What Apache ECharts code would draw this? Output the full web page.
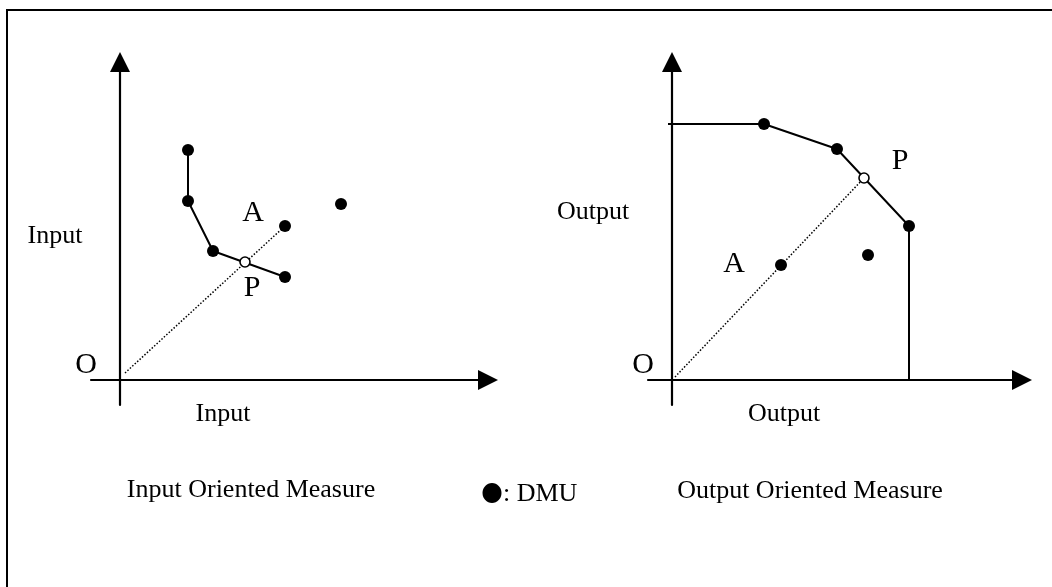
<!DOCTYPE html>
<html>
<head>
<meta charset="utf-8">
<script src="https://cdn.jsdelivr.net/npm/echarts@6/dist/echarts.min.js"></script>
<style>
  html, body { margin: 0; padding: 0; background: #fff; }
  #chart { width: 1052px; height: 587px; }
</style>
</head>
<body>
<div id="chart"></div>
<script>
  // input oriented (left panel), units = input quantities
  var inFrontier = [[6.8, 23.0], [6.8, 17.9], [9.3, 12.9], [16.5, 10.3]];
  var inOtherDmu = [[16.5, 15.4], [22.1, 17.6]];
  var inPointA = [16.5, 15.4];
  var inPointP = [12.5, 11.8];
  var inRayStart = [0.5, 0.7];

  // output oriented (right panel)
  var outFrontier = [[-0.4, 25.6], [9.2, 25.6], [16.5, 23.1], [23.7, 15.4], [23.7, 0]];
  var outDmu = [[9.2, 25.6], [16.5, 23.1], [23.7, 15.4], [10.9, 11.5], [19.6, 12.5]];
  var outPointA = [10.9, 11.5];
  var outPointP = [19.2, 20.2];
  var outRayStart = [0.3, 0.3];

  var FONT = '"Liberation Serif", "Times New Roman", serif';

  var chart = echarts.init(document.getElementById('chart'), null, {renderer: 'canvas'});

  function axis(min, max, idx) {
    return {
      type: 'value',
      gridIndex: idx,
      min: min,
      max: max,
      axisLine: {
        show: true,
        onZero: true,
        symbol: ['none', 'triangle'],
        symbolSize: [20, 20],
        lineStyle: {color: '#000', width: 2.2}
      },
      axisTick: {show: false},
      axisLabel: {show: false},
      splitLine: {show: false}
    }
  }

  function txt(x, y, s, size, align) {
    return {
      type: 'text',
      x: x,
      y: y,
      style: {
        text: s,
        font: size + 'px ' + FONT,
        fill: '#000',
        textAlign: align || 'center',
        textVerticalAlign: 'middle'
      }
    }
  }

  var dotStyle = {color: '#000', opacity: 1};
  var openStyle = {color: '#fff', borderColor: '#000', borderWidth: 1.6, opacity: 1};
  var rayStyle = {color: '#000', width: 1.5, type: [1.5, 1.8]};

  chart.setOption({
    animation: false,
    backgroundColor: '#fff',
    grid: [
      {left: 91, top: 62, width: 397, height: 343},
      {left: 648, top: 62, width: 374, height: 343}
    ],
    xAxis: [axis(-2.9, 36.8, 0), axis(-2.4, 35.0, 1)],
    yAxis: [axis(-2.5, 31.8, 0), axis(-2.5, 31.8, 1)],
    series: [
      // left
      {
        type: 'line', xAxisIndex: 0, yAxisIndex: 0,
        data: [inRayStart, inPointA],
        showSymbol: false,
        lineStyle: rayStyle
      },
      {
        type: 'line', xAxisIndex: 0, yAxisIndex: 0,
        data: inFrontier,
        symbol: 'circle', symbolSize: 12,
        itemStyle: dotStyle,
        lineStyle: {color: '#000', width: 2}
      },
      {
        type: 'scatter', xAxisIndex: 0, yAxisIndex: 0,
        data: inOtherDmu,
        symbolSize: 12,
        itemStyle: dotStyle
      },
      {
        type: 'scatter', xAxisIndex: 0, yAxisIndex: 0,
        data: [inPointP],
        symbolSize: 10,
        itemStyle: openStyle,
        z: 5
      },
      // right
      {
        type: 'line', xAxisIndex: 1, yAxisIndex: 1,
        data: [outRayStart, outPointP],
        showSymbol: false,
        lineStyle: rayStyle
      },
      {
        type: 'line', xAxisIndex: 1, yAxisIndex: 1,
        data: outFrontier,
        showSymbol: false,
        lineStyle: {color: '#000', width: 2}
      },
      {
        type: 'scatter', xAxisIndex: 1, yAxisIndex: 1,
        data: outDmu,
        symbolSize: 12,
        itemStyle: dotStyle
      },
      {
        type: 'scatter', xAxisIndex: 1, yAxisIndex: 1,
        data: [outPointP],
        symbolSize: 10,
        itemStyle: openStyle,
        z: 5
      }
    ],
    graphic: [
      {
        type: 'rect',
        shape: {x: 7, y: 10, width: 1100, height: 700},
        style: {fill: 'none', stroke: '#000', lineWidth: 2},
        silent: true
      },
      txt(55, 236, 'Input', 26),
      txt(223, 414, 'Input', 26),
      txt(86, 365, 'O', 30),
      txt(253, 213, 'A', 30),
      txt(252, 288, 'P', 30),
      txt(251, 490, 'Input Oriented Measure', 26),
      {
        type: 'ellipse',
        shape: {cx: 492, cy: 493, rx: 9.5, ry: 10},
        style: {fill: '#000'}
      },
      txt(503, 494, ': DMU', 26, 'left'),
      txt(593, 212, 'Output', 26),
      txt(784, 414, 'Output', 26),
      txt(643, 365, 'O', 30),
      txt(900, 161, 'P', 30),
      txt(734, 264, 'A', 30),
      txt(810, 491, 'Output Oriented Measure', 26)
    ]
  });
</script>
</body>
</html>
